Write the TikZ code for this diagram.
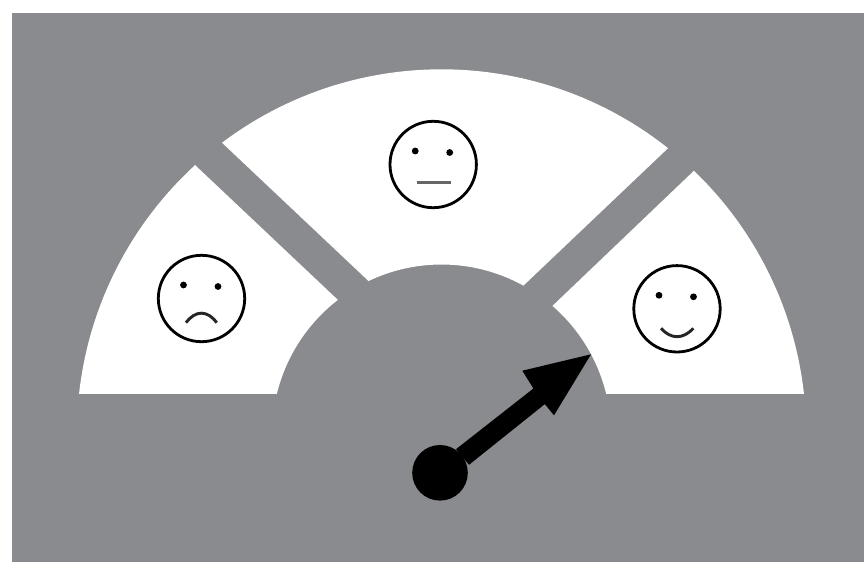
\documentclass[tikz,border=0pt]{standalone}
\usepackage{xcolor}
\definecolor{dialgray}{RGB}{138,139,142}
\newcommand{\facepic}[4]{%
  \begin{scope}[shift={(#1,#2)}]
    \draw[line width=2.1pt] (0,0) circle (43.2);
    \foreach \x/\y in {-18/13.5,16.5/12}{\fill (\x,\y) circle (3.4);}
    \draw[line width=2.2pt,#3] #4;
  \end{scope}%
}
\begin{document}
\begin{tikzpicture}[x=0.75pt,y=0.75pt]
\useasboundingbox (0,0) rectangle (868,562);
\fill[dialgray] (12,0) rectangle (864,549);
\coordinate (dial) at (441.5,128);
\coordinate (hub) at (440,89.2);
\foreach \a/\b/\c/\d in {173.7/132.5/166.3/127.7,127/51.6/115.5/61.1,46.2/6.3/49.1/13.7}{
  \fill[white] ([shift={(dial)}]\a:364.7) arc[start angle=\a,end angle=\b,radius=364.7]
    -- ([shift={(dial)}]\d:169.5) arc[start angle=\d,end angle=\c,radius=169.5] -- cycle;
}
\facepic{201.5}{263.5}{black!85}{(-15.5,-24.2) .. controls (-6,-11.5) and (6,-11.5) .. (15.2,-24.2)}
\facepic{433.2}{397.5}{black!60}{(-16.5,-18.2) -- (17.5,-18.2)}
\facepic{677}{253.2}{black!85}{(-16,-19.5) .. controls (-6,-30.7) and (6,-30.7) .. (16.3,-19.5)}
\fill (hub) circle (27.8);
\fill (456,112.8) -- (533.4,173.5) -- (522.3,191.3) -- (591,207.7) -- (554,146.7) -- (544.8,157.9) -- (469,97.2) -- cycle;
\end{tikzpicture}
\end{document}
